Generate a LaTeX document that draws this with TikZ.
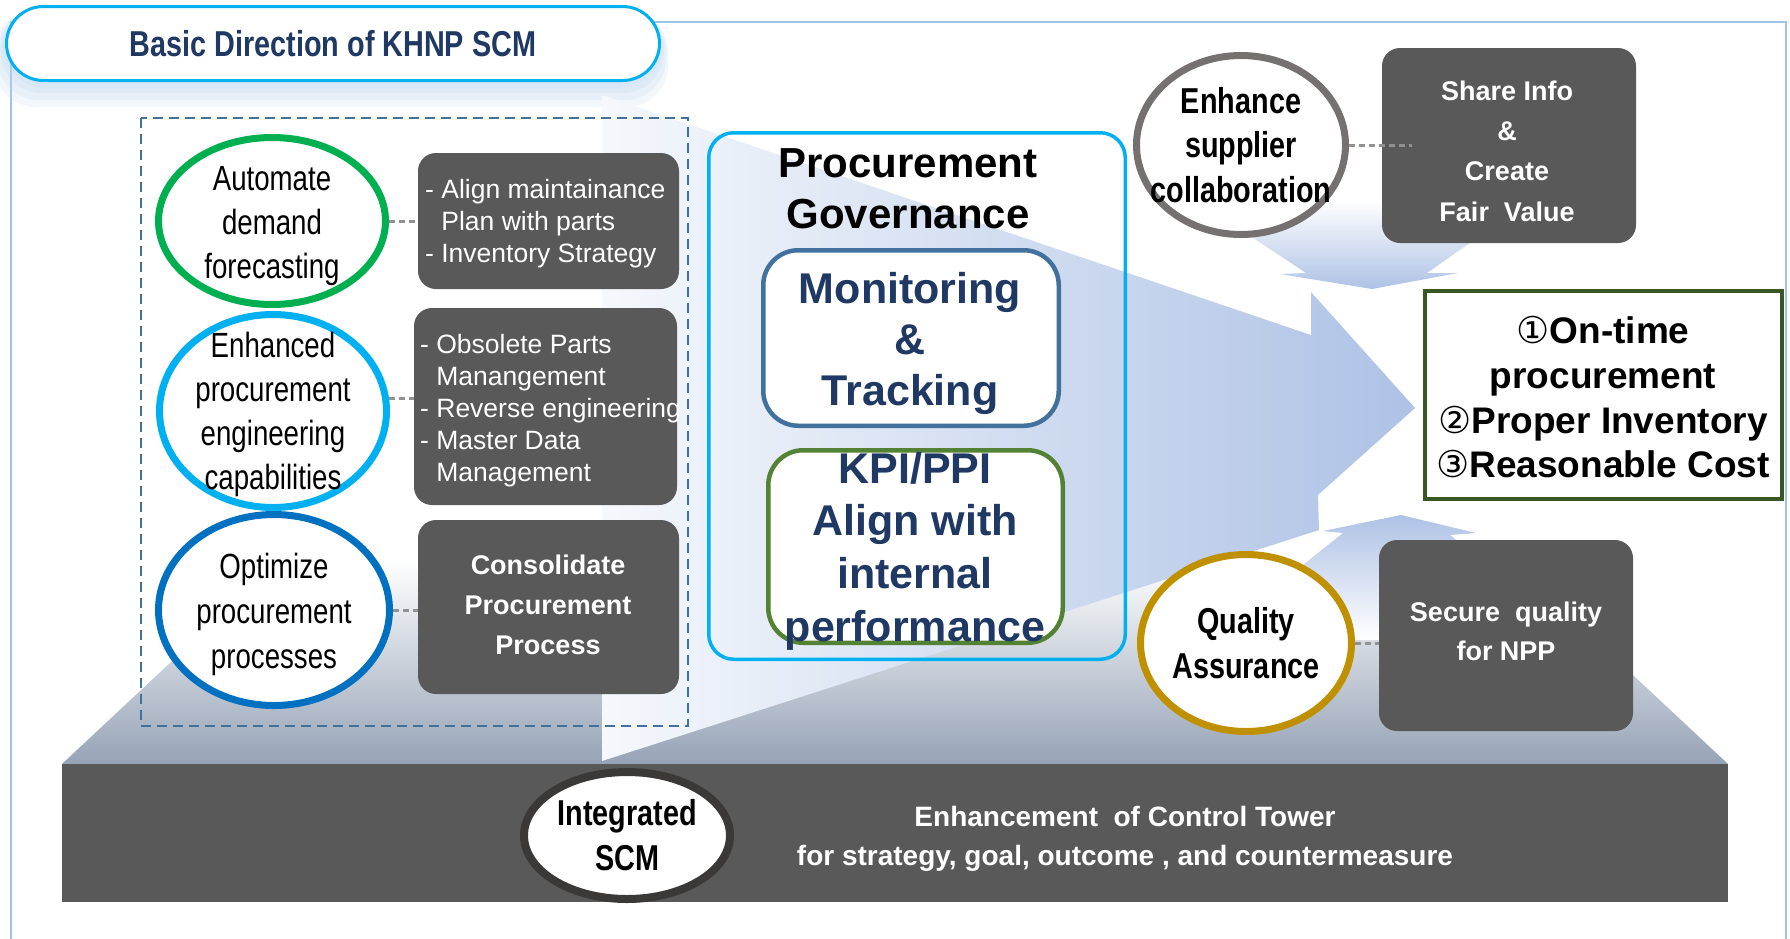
\documentclass[tikz,border=0pt]{standalone}
\usepackage{fontspec}
\setmainfont{Liberation Sans}
\newfontfamily\condfont[FakeStretch=0.79]{Liberation Sans}
\newfontfamily\condbfont[FakeStretch=0.8]{Liberation Sans}
\newfontfamily\titlefont[FakeStretch=0.8]{Liberation Sans}
\newfontfamily\symfont{DejaVu Sans}
\usetikzlibrary{shapes.geometric}
\definecolor{boxgray}{RGB}{89,89,89}
\definecolor{cyanb}{RGB}{0,176,240}
\definecolor{greenc}{RGB}{0,176,80}
\definecolor{bluec}{RGB}{0,112,192}
\definecolor{grayc}{RGB}{118,113,113}
\definecolor{goldc}{RGB}{191,144,0}
\definecolor{darkc}{RGB}{59,56,56}
\definecolor{navy}{RGB}{31,56,100}
\definecolor{steel}{RGB}{65,113,156}
\definecolor{kpigreen}{RGB}{84,130,53}
\definecolor{resgreen}{RGB}{56,87,35}
\definecolor{framec}{RGB}{157,195,230}
\definecolor{arrowblue}{RGB}{174,194,229}
\definecolor{arrowstart}{RGB}{245,248,252}
\definecolor{platgray}{RGB}{150,163,182}
\definecolor{dashgray}{RGB}{145,145,145}
\definecolor{glow}{RGB}{190,215,240}
\begin{document}
\begin{tikzpicture}[x=1pt,y=-1pt,
  gbox/.style={rectangle, fill=boxgray, rounded corners=18pt, inner sep=0},
  circ/.style={ellipse, fill=white, inner sep=0, line width=7pt},
  conn/.style={draw=dashgray, line width=3pt, dash pattern=on 6pt off 4pt},
  ctext/.style={anchor=base, inner sep=0, font=\condfont\fontsize{35}{40}\selectfont},
  cbtext/.style={anchor=base, inner sep=0, font=\condbfont\bfseries\fontsize{36}{40}\selectfont},
  btext/.style={anchor=base west, inner sep=0, text=white, font=\fontsize{26.5}{32}\selectfont},
  bbtext/.style={anchor=base, inner sep=0, text=white, font=\bfseries\fontsize{27}{32}\selectfont},
  bigtext/.style={anchor=base, inner sep=0, text=navy, font=\bfseries\fontsize{43}{50}\selectfont},
  restext/.style={anchor=base, inner sep=0, font=\bfseries\fontsize{37}{44}\selectfont}]
\useasboundingbox (0,0) rectangle (1790,938);
\fill[white] (0,0) rectangle (1790,938);
% frame
\draw[framec, line width=2.5pt] (11,950) -- (11,22) -- (1786,22) -- (1786,950);
% title glow
\foreach \g in {18,13,8,4}
  \fill[glow, opacity=0.2, rounded corners=42pt] (5-\g*0.6,5+\g*0.3) rectangle (661+\g*0.4,82+\g*1.4);
\node[rectangle, rounded corners=37pt, draw=cyanb, line width=3pt, fill=white,
  minimum width=653pt, minimum height=74pt, inner sep=0,
  text=navy, font=\titlefont\bfseries\fontsize{36}{40}\selectfont] (title) at (333,43.5) {Basic Direction of KHNP SCM};
% platform
\shade[top color=white, bottom color=platgray] (280,560) -- (1510,560) -- (1728,764) -- (62,764) -- cycle;
% big arrow
\shade[left color=arrowstart, right color=arrowblue] (602,95) -- (1311,335) -- (1311,292) -- (1415,408) -- (1318,495) -- (1319,530) -- (602,761) -- cycle;
% down arrow
\shade[top color=white, bottom color=arrowblue] (1196,200) -- (1306,273) -- (1280,274) -- (1372,289) -- (1458,273) -- (1427,273) -- (1531,200) -- cycle;
% up arrow
\shade[top color=arrowblue, bottom color=white] (1401,515) -- (1476,533) -- (1450,535) -- (1581,640) -- (1209,640) -- (1343,533) -- (1323,531) -- cycle;
% slab
\fill[boxgray] (62,764) rectangle (1728,902);
% dashed box
\draw[steel, line width=2pt, dash pattern=on 10pt off 6pt] (141,118) rectangle (688,726);
% governance
\node[rectangle, rounded corners=25pt, draw=cyanb, line width=3.5pt, minimum width=416.5pt, minimum height=526.5pt, inner sep=0] (gov) at (917,396) {};
\node[rectangle, rounded corners=35pt, draw=steel, fill=white, line width=4.5pt, minimum width=295.5pt, minimum height=175.5pt, inner sep=0] (mon) at (911,338) {};
\node[rectangle, rounded corners=35pt, draw=kpigreen, fill=white, line width=4.5pt, minimum width=294.5pt, minimum height=192.5pt, inner sep=0] (kpi) at (915.5,546.5) {};
% left circles and boxes
\node[circ, draw=greenc, minimum width=227pt, minimum height=167pt] (c1) at (272,221) {};
\node[circ, draw=cyanb, minimum width=227pt, minimum height=193pt] (c2) at (273,411) {};
\node[circ, draw=bluec, minimum width=231pt, minimum height=191pt] (c3) at (274,610) {};
\node[gbox, minimum width=261pt, minimum height=136pt] (b1) at (548.5,221) {};
\node[gbox, minimum width=263pt, minimum height=197pt] (b2) at (545.5,406.5) {};
\node[gbox, minimum width=261pt, minimum height=174pt] (b3) at (548.5,607) {};
\draw[conn] (c1.east) -- (c1.east -| b1.west);
\draw[conn] (c2.6) -- (c2.6 -| b2.west);
\draw[conn] (c3.east) -- (c3.east -| b3.west);
% right side
\node[circ, draw=grayc, minimum width=209pt, minimum height=179pt] (sup) at (1241,145) {};
\node[gbox, minimum width=254pt, minimum height=195pt] (share) at (1509,145.5) {};
\draw[conn] (sup.east) -- ([xshift=30pt]sup.east -| share.west);
\node[rectangle, draw=resgreen, fill=white, line width=4pt, minimum width=357pt, minimum height=208pt, inner sep=0] (res) at (1603.5,395) {};
\node[circ, draw=goldc, minimum width=211pt, minimum height=177pt] (qa) at (1246,643) {};
\node[gbox, minimum width=254pt, minimum height=191pt] (secure) at (1506,635.5) {};
\draw[conn] (qa.east) -- (qa.east -| secure.west);
\node[circ, draw=darkc, line width=8pt, minimum width=206pt, minimum height=127pt] (int) at (627,835.5) {};
% texts: left circles
\node[ctext] (t1a) at (272,190) {Automate};
\node[ctext] (t1b) at (272,234) {demand};
\node[ctext] (t1c) at (272,278) {forecasting};
\node[ctext] (t2a) at (273,357) {Enhanced};
\node[ctext] (t2b) at (273,401) {procurement};
\node[ctext] (t2c) at (273,445) {engineering};
\node[ctext] (t2d) at (273,489) {capabilities};
\node[ctext] (t3a) at (274,578) {Optimize};
\node[ctext] (t3b) at (274,623) {procurement};
\node[ctext] (t3c) at (274,668) {processes};
% box texts
\node[btext] (b1a) at (425,198) {- Align maintainance};
\node[btext] (b1b) at (425,230) {\phantom{- }Plan with parts};
\node[btext] (b1c) at (425,262) {- Inventory Strategy};
\node[btext] (b2a) at (420,353) {- Obsolete Parts};
\node[btext] (b2b) at (420,385) {\phantom{- }Manangement};
\node[btext] (b2c) at (420,417) {- Reverse engineering};
\node[btext] (b2d) at (420,449) {- Master Data};
\node[btext] (b2e) at (420,481) {\phantom{- }Management};
\node[bbtext] (b3a) at (548,574) {Consolidate};
\node[bbtext] (b3b) at (548,614) {Procurement};
\node[bbtext] (b3c) at (548,654) {Process};
% governance texts
\node[anchor=base, inner sep=0, font=\bfseries\fontsize{42}{50}\selectfont] (g1) at (908,177) {Procurement};
\node[anchor=base, inner sep=0, font=\bfseries\fontsize{42}{50}\selectfont] (g2) at (908,228) {Governance};
\node[bigtext] (m1) at (910,303) {Monitoring};
\node[bigtext] (m2) at (910,354) {\&};
\node[bigtext] (m3) at (910,405) {Tracking};
\node[bigtext] (k1) at (915,483) {KPI/PPI};
\node[bigtext] (k2) at (915,535) {Align with};
\node[bigtext] (k3) at (915,588) {internal};
\node[bigtext] (k4) at (915,641) {performance};
% right texts
\node[cbtext] (s1) at (1241,113) {Enhance};
\node[cbtext] (s2) at (1241,157) {supplier};
\node[cbtext] (s3) at (1241,202) {collaboration};
\node[bbtext] (sh1) at (1507,100) {Share Info};
\node[bbtext] (sh2) at (1507,140) {\&};
\node[bbtext] (sh3) at (1507,180) {Create};
\node[bbtext] (sh4) at (1507,221) {Fair\ \ Value};
\node[restext] (r1) at (1603,343) {{\symfont\mdseries ①}On-time};
\node[restext] (r2) at (1603,388) {procurement};
\node[restext] (r3) at (1603,433) {{\symfont\mdseries ②}Proper Inventory};
\node[restext] (r4) at (1603,477) {{\symfont\mdseries ③}Reasonable Cost};
\node[cbtext] (q1) at (1246,633) {Quality};
\node[cbtext] (q2) at (1246,678) {Assurance};
\node[bbtext] (se1) at (1506,621) {Secure\ \ quality};
\node[bbtext] (se2) at (1506,660) {for NPP};
% bottom
\node[cbtext] (i1) at (627,825) {Integrated};
\node[cbtext] (i2) at (627,870) {SCM};
\node[bbtext, font=\bfseries\fontsize{28}{32}\selectfont] (e1) at (1125,826) {Enhancement\ \ of Control Tower};
\node[bbtext, font=\bfseries\fontsize{28}{32}\selectfont] (e2) at (1125,865) {for strategy, goal, outcome , and countermeasure};
\end{tikzpicture}
\end{document}
